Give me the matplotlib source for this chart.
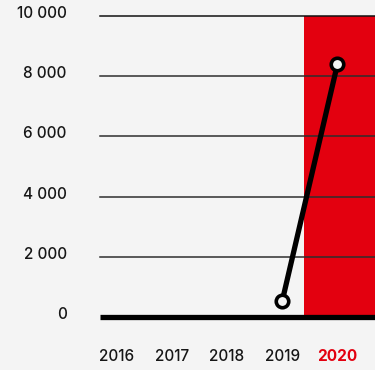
import matplotlib
matplotlib.use("Agg")
import matplotlib.pyplot as plt
import matplotlib.transforms as mtransforms

plt.rcParams['font.family'] = ['Inter', 'DejaVu Sans']

years = ["2016", "2017", "2018", "2019", "2020"]
line_years = [3, 4]          # index of 2019 and 2020
line_values = [530, 8400]
y_ticks = [0, 2000, 4000, 6000, 8000, 10000]
y_labels = ["0", "2 000", "4 000", "6 000", "8 000", "10 000"]

bg = "#f4f4f4"
red = "#e3000f"

fig = plt.figure(figsize=(3.75, 3.7), dpi=100, facecolor=bg)
ax = fig.add_axes([100 / 375, 53 / 370, 275 / 375, 301 / 370])
ax.set_facecolor(bg)

ax.set_xlim(-0.3, 4.68)
ax.set_ylim(0, 10000)

# highlighted year
ax.axvspan(3.4, 4.68, color=red, zorder=0, lw=0)

for t in y_ticks[1:]:
    ax.axhline(t, color="#2e2e2e" if t < 10000 else "#111111", lw=1.1, zorder=1,
               clip_on=False)
ax.axhline(0, color="black", lw=3.8, zorder=2, solid_capstyle="butt", clip_on=False)

ax.plot(line_years, line_values, color="black", lw=3.8, zorder=3,
        marker="o", markersize=9, markerfacecolor=bg, markeredgecolor="black",
        markeredgewidth=2.6, solid_capstyle="butt", clip_on=False)

for s in ax.spines.values():
    s.set_visible(False)

ax.set_yticks(y_ticks)
ax.set_yticklabels(y_labels, fontsize=11, fontweight=500, color="#161616")
ax.tick_params(axis="y", length=0, pad=24)
shift = mtransforms.ScaledTranslation(0, 4 / 100, fig.dpi_scale_trans)
for lab in ax.get_yticklabels():
    lab.set_transform(lab.get_transform() + shift)

ax.set_xticks(range(len(years)))
ax.set_xticklabels(years, fontsize=11, fontweight=500, color="#161616")
ax.tick_params(axis="x", length=0, pad=23)
last = ax.get_xticklabels()[-1]
last.set_color(red)
last.set_fontweight("bold")

fig.savefig("out.png", dpi=100, facecolor=bg)
